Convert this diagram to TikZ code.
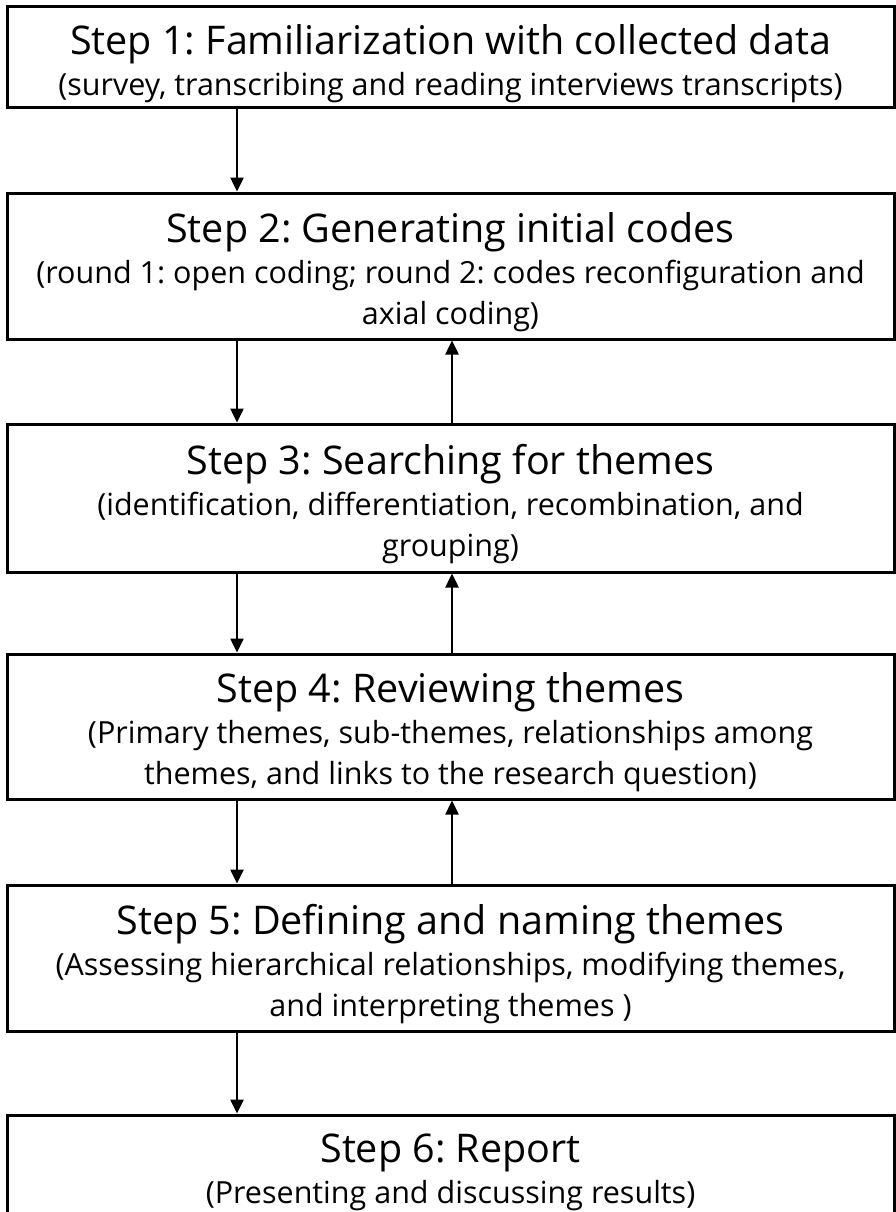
\documentclass[tikz,border=0pt]{standalone}
\usepackage{fontspec}
\setmainfont{Open Sans}
\usetikzlibrary{arrows.meta,positioning,calc}

\newcommand{\titlesize}{\fontsize{39.5}{42}\selectfont}
\newcommand{\subsize}{\fontsize{30.5}{41}\selectfont}
\newcommand{\steptitle}[1]{{\titlesize\rule{0pt}{42pt}#1}}
\tikzset{
	stepbox/.style={draw, line width=3pt, minimum width=887pt, inner sep=0pt, align=center, font=\subsize\frenchspacing},
	flow/.style={line width=2.5pt, -{Triangle[length=14pt,width=13pt]}}
}

\begin{document}
\begin{tikzpicture}[x=1pt,y=-1pt]
	\path[use as bounding box, clip] (0,0) rectangle (896,1212);
	\node[stepbox, minimum height=101pt] (s1) at (450.5,57.5) {\steptitle{Step 1: Familiarization with collected data}\\(survey, transcribing and reading interviews transcripts)};
	\node[stepbox, minimum height=146pt] (s2) at (450.5,266) {\steptitle{Step 2: Generating initial codes}\\(round 1: open coding; round 2: codes reconfiguration and\\axial coding)};
	\node[stepbox, minimum height=148pt] (s3) at (450.5,498) {\steptitle{Step 3: Searching for themes}\\(identification, differentiation, recombination, and\\grouping)};
	\node[stepbox, minimum height=145pt] (s4) at (450.5,726.5) {\steptitle{Step 4: Reviewing themes}\\(Primary themes, sub-themes, relationships among\\themes, and links to the research question)};
	\node[stepbox, minimum height=146pt] (s5) at (450.5,958) {\steptitle{Step 5: Defining and naming themes}\\(Assessing hierarchical relationships, modifying themes,\\and interpreting themes )};
	\node[stepbox, minimum height=101pt] (s6) at (450.5,1165.5) {\steptitle{Step 6: Report}\\(Presenting and discussing results)};
	% arrow columns
	\coordinate (dn) at (237,0);
	\coordinate (up) at (452,0);
	\foreach \a/\b in {s1/s2,s2/s3,s3/s4,s4/s5,s5/s6} {
		\draw[flow] (\a.south -| dn) -- (\b.north -| dn);
	}
	\foreach \a/\b in {s2/s3,s3/s4,s4/s5} {
		\draw[flow] (\b.north -| up) -- (\a.south -| up);
	}
\end{tikzpicture}
\end{document}
